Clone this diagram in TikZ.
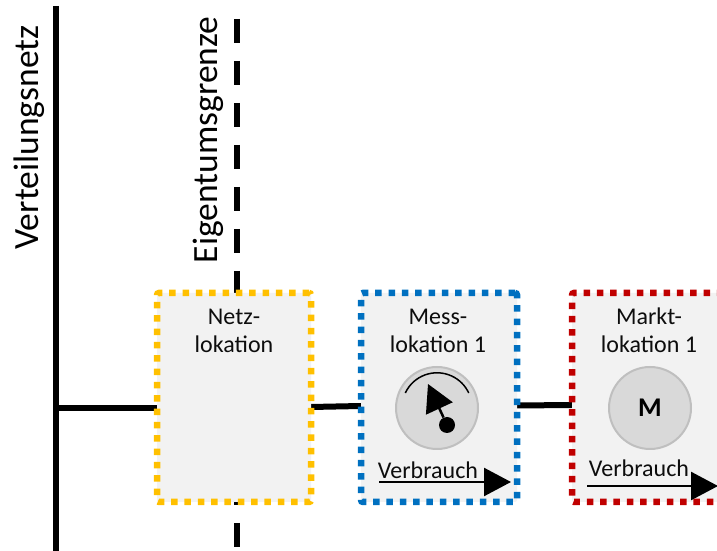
\documentclass[tikz,border=0pt]{standalone}
\usepackage{fontspec}
\setmainfont{Carlito}
\usetikzlibrary{arrows, arrows.meta}
\usetikzlibrary{backgrounds}
\definecolor{netzgelb}{HTML}{FFC000}
\definecolor{messblau}{HTML}{0070C0}
\definecolor{marktrot}{HTML}{C00000}
\tikzset{
    lokation/.style={draw=#1, fill=black!5, line width=6.5pt, dash pattern=on 6.5pt off 6.83pt, rounded corners=2pt, outer sep=0pt, inner sep=0pt, minimum height=209pt},
    titel/.style={align=center, font=\fontsize{24}{28.5}\selectfont, text=black!95, anchor=base, inner sep=0pt},
    grenze/.style={rotate=90, anchor=base, inner sep=0pt, font=\fontsize{35.5}{40}\selectfont},
    leitung/.style={line width=6pt},
    scheibe/.style={circle, draw=black!25, fill=black!15, line width=2pt, inner sep=0pt, minimum size=82pt, outer sep=0pt},
    fluss/.style={line width=2.5pt, -{Triangle[length=27pt, width=28pt]}},
}

\begin{document}
\begin{tikzpicture}[x=1pt, y=1pt]
    \useasboundingbox (0,0) rectangle (717,551);
    \clip (0,0) rectangle (717,551);

    \coordinate (netzoben) at (55.5,545);
    \coordinate (netzunten) at (55.5,0);
    \coordinate (abzweig) at (55.5,143);
    \coordinate (grenzeoben) at (237,532);
    \coordinate (grenzeunten) at (237,4);

    \node[lokation=netzgelb, minimum width=154pt] (netz) at (234,153.5) {};
    \node[lokation=messblau, minimum width=156pt] (mess) at (439,153.5) {};
    \node[lokation=marktrot, minimum width=180pt] (markt) at (662,153.5) {};

    \node[titel] (netztext) at (234,198) {Netz-\\lokation};
    \node[titel] (messtext) at (438,198) {Mess-\\lokation 1};
    \node[titel] (markttext) at (649,198) {Markt-\\lokation 1};

    \node[grenze] (verteilnetz) at (38.5,413.5) {Verteilungsnetz};
    \node[grenze] (eigentum) at (217,411) {Eigentumsgrenze};

    \node[scheibe] (zaehler) at (437,143) {};
    \node[scheibe, font=\fontsize{27}{27}\selectfont\bfseries] (marktkreis) at (650,143) {M};

    \draw[line width=1.5pt] (405.3,158) arc[start angle=155, end angle=25, radius=35pt];
    \node[circle, fill=black, inner sep=0pt, minimum size=16pt] (nabe) at (447,126) {};
    \coordinate (zeiger) at (428,167);
    \draw[line width=2.5pt, -{Triangle[length=27pt, width=29pt]}] (nabe) -- (zeiger);

    \coordinate (messstart) at (379,69);
    \coordinate (messende) at (511,69);
    \coordinate (marktstart) at (587,65);
    \coordinate (marktende) at (718,65);
    \draw[fluss] (messstart) -- (messende);
    \draw[fluss] (marktstart) -- (marktende);
    \node[titel] (messverbrauch) at (428,72) {Verbrauch};
    \node[titel] (marktverbrauch) at (639,74) {Verbrauch};

    \begin{pgfonlayer}{background}
        \draw[leitung] (netzoben) -- (netzunten);
        \draw[line width=6pt, dash pattern=on 24pt off 18pt] (grenzeoben) -- (grenzeunten);
        \draw[leitung] (abzweig) -- ([yshift=-10.5pt]netz.west);
        \draw[leitung] ([yshift=-9.5pt]netz.east) -- ([yshift=-8.5pt]mess.west);
        \draw[leitung] ([yshift=-8pt]mess.east) -- ([yshift=-7.5pt]markt.west);
    \end{pgfonlayer}
\end{tikzpicture}
\end{document}
